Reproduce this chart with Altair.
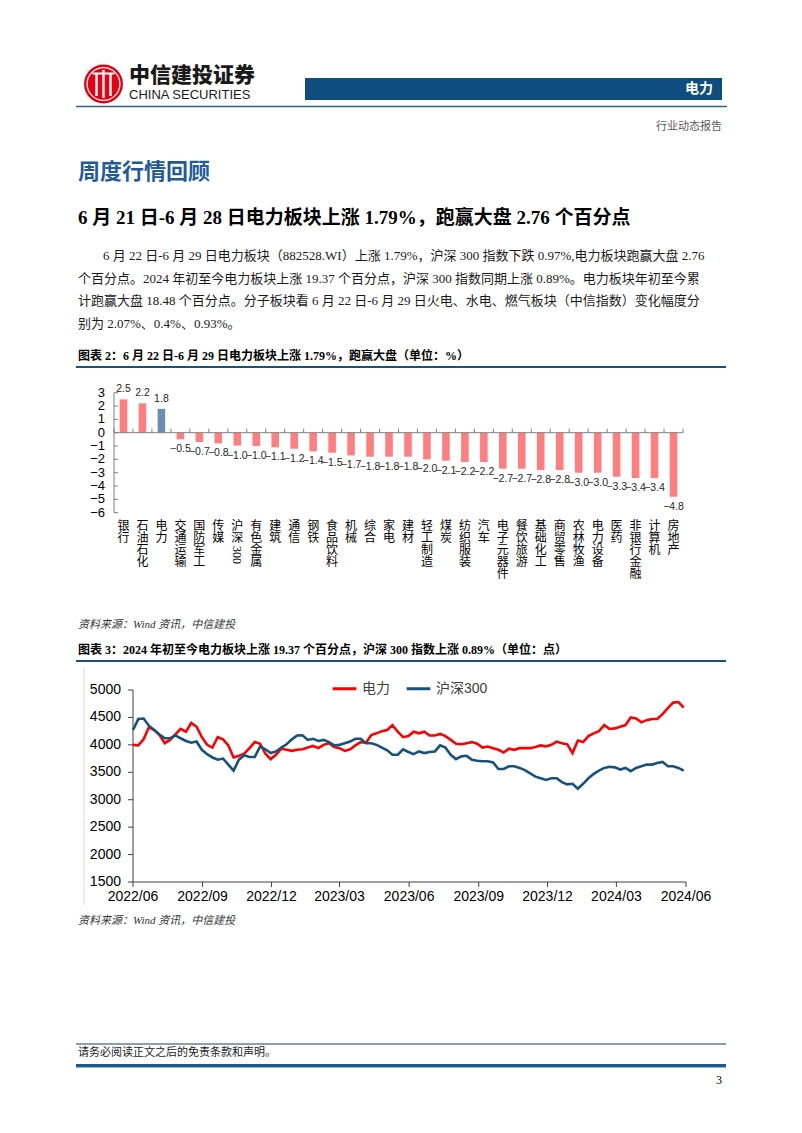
import altair as alt
import pandas as pd

SERIF = "'Liberation Serif', 'Noto Sans CJK SC', serif"
SANS = "'Liberation Sans', 'Noto Sans CJK SC', sans-serif"
CJK = "'Noto Sans CJK SC', sans-serif"

# ---------------- data: bar chart ----------------
bar_categories = ["银行", "石油石化", "电力", "交通运输", "国防军工", "传媒", "沪深300", "有色金属",
                  "建筑", "通信", "钢铁", "食品饮料", "机械", "综合", "家电", "建材", "轻工制造",
                  "煤炭", "纺织服装", "汽车", "电子元器件", "餐饮旅游", "基础化工", "商贸零售",
                  "农林牧渔", "电力设备", "医药", "非银行金融", "计算机", "房地产"]
bar_values = [2.5, 2.2, 1.79, -0.5, -0.7, -0.8, -0.97, -1.0, -1.1, -1.2, -1.4, -1.5, -1.7, -1.8,
              -1.8, -1.8, -2.0, -2.1, -2.2, -2.2, -2.7, -2.7, -2.8, -2.8, -3.0, -3.0, -3.3, -3.4,
              -3.4, -4.8]
bar_highlight = "电力"
bar_yticks = [3, 2, 1, 0, -1, -2, -3, -4, -5, -6]

# ---------------- data: line chart (weekly readings) ----------------
line_series = ["电力", "沪深300"]
line_start = "2022-06-28"
power_values = [4000, 3990, 4100, 4320, 4270, 4180, 4030, 4090, 4190, 4290, 4240, 4400, 4330, 4140,
                4000, 3950, 4140, 4100, 3990, 3770, 3800, 3840, 3940, 4050, 4020, 3840, 3740, 3820,
                3930, 3910, 3890, 3910, 3920, 3950, 3980,
                3940, 4000, 4030, 3960, 3940, 3890, 3920, 3990, 4050, 4040, 4180, 4210, 4250, 4270,
                4360, 4240, 4140, 4160, 4240, 4210, 4240, 4170, 4170, 4200, 4160, 4090, 4020, 4010,
                4030, 4050, 4020, 3950, 3970, 3940, 3910,
                3860, 3930, 3910, 3940, 3940, 3940, 3960, 3990, 3970, 4000, 4060, 4030, 4010, 3850,
                4080, 4050, 4160, 4210, 4250, 4360, 4290, 4300, 4330, 4360, 4500, 4480, 4410, 4450,
                4470, 4470, 4560, 4670, 4770, 4780, 4680]
csi300_values = [4270, 4470, 4480, 4350, 4270, 4190, 4120, 4120, 4175, 4120, 4070, 4040, 4060, 3910,
                 3830, 3770, 3730, 3750, 3640, 3530, 3730, 3810, 3780, 3780, 3970, 3920, 3850, 3880,
                 3950, 4010, 4100, 4170, 4175, 4090, 4110,
                 4070, 4090, 4050, 3990, 4000, 4030, 4060, 4110, 4110, 4030, 4030, 4000, 3950, 3900,
                 3820, 3820, 3920, 3870, 3830, 3880, 3850, 3870, 3880, 3990, 3950, 3820, 3740, 3790,
                 3800, 3730, 3710, 3700, 3700, 3680, 3560,
                 3560, 3610, 3610, 3580, 3540, 3480, 3420, 3390, 3360, 3390, 3390, 3320, 3280, 3290,
                 3200, 3290, 3390, 3470, 3530, 3580, 3600, 3590, 3550, 3580, 3520, 3580, 3610, 3640,
                 3640, 3670, 3690, 3610, 3610, 3580, 3530]
line_xticks = ["2022/06", "2022/09", "2022/12", "2023/03", "2023/06", "2023/09", "2023/12",
               "2024/03", "2024/06"]
line_yticks = [1500, 2000, 2500, 3000, 3500, 4000, 4500, 5000]

# ---------------- helpers (page pixel -> view pixel) ----------------
OX, OY = 8, 8


def X(p):
    return p - OX


def Y(p):
    return p - OY


one = pd.DataFrame({"k": [0]})


def text(s, x, y, size, font=SERIF, weight="normal", color="#000000", align="left", style="normal"):
    return alt.Chart(pd.DataFrame({"t": [s]})).mark_text(
        align=align, baseline="middle", font=font, fontSize=size, fontWeight=weight,
        fontStyle=style, color=color
    ).encode(x=alt.value(X(x)), y=alt.value(Y(y)), text="t:N")


def rect(x1, y1, x2, y2, color):
    return alt.Chart(one).mark_rect(color=color).encode(
        x=alt.value(X(x1)), x2=alt.value(X(x2)), y=alt.value(Y(y1)), y2=alt.value(Y(y2)))


def hline(x1, x2, y, color, w):
    return alt.Chart(one).mark_rule(color=color, strokeWidth=w).encode(
        x=alt.value(X(x1)), x2=alt.value(X(x2)), y=alt.value(Y(y)))


def vline(x, y1, y2, color, w):
    return alt.Chart(one).mark_rule(color=color, strokeWidth=w).encode(
        x=alt.value(X(x)), y=alt.value(Y(y1)), y2=alt.value(Y(y2)))


def circle(x, y, r, fill=None, stroke=None, sw=1.0):
    kw = dict(shape="circle", opacity=1)
    if fill:
        kw.update(filled=True, fill=fill, strokeWidth=0)
    else:
        kw.update(filled=False, stroke=stroke, strokeWidth=sw)
    return alt.Chart(one).mark_point(**kw).encode(
        x=alt.value(X(x)), y=alt.value(Y(y)), size=alt.value(3.14159 * r * r))


layers = []

# ---------------- header ----------------
LOGO_X, LOGO_Y = 103.5, 84
layers += [
    circle(LOGO_X, LOGO_Y, 22, fill="#E60012"),
    circle(LOGO_X, LOGO_Y, 18.5, stroke="#FFFFFF", sw=1.3),
    vline(LOGO_X - 7, 73, 96, "#FFFFFF", 2.4),
    vline(LOGO_X, 70, 98, "#FFFFFF", 2.4),
    vline(LOGO_X + 7, 73, 96, "#FFFFFF", 2.4),
    hline(LOGO_X - 11, LOGO_X + 11, 73.5, "#FFFFFF", 2.0),
    text("中信建投证券", 129, 76, 21, font=CJK, weight=900, color="#1A1A1A"),
    text("CHINA SECURITIES", 129, 95, 13, font=SANS, weight="normal", color="#1A1A1A"),
    rect(305, 78, 722, 100, "#0E4D7E"),
    text("电力", 713, 89, 14, font=CJK, weight="bold", color="#FFFFFF", align="right"),
    hline(76, 727, 106.5, "#35607F", 1.5),
    text("行业动态报告", 722, 127, 11, font=SERIF, color="#595959", align="right"),
]

# ---------------- headings and paragraph ----------------
layers += [
    text("周度行情回顾", 78, 172, 22, font=CJK, weight="bold", color="#1F5B98"),
    text("6 月 21 日-6 月 28 日电力板块上涨 1.79%，跑赢大盘 2.76 个百分点", 78, 218, 19,
         font=SERIF, weight="bold", color="#000000"),
    text("6 月 22 日-6 月 29 日电力板块（882528.WI）上涨 1.79%，沪深 300 指数下跌 0.97%,电力板块跑赢大盘 2.76",
         103, 256, 13, color="#1A1A1A"),
    text("个百分点。2024 年初至今电力板块上涨 19.37 个百分点，沪深 300 指数同期上涨 0.89%。电力板块年初至今累",
         78, 279, 13, color="#1A1A1A"),
    text("计跑赢大盘 18.48 个百分点。分子板块看 6 月 22 日-6 月 29 日火电、水电、燃气板块（中信指数）变化幅度分",
         78, 301, 13, color="#1A1A1A"),
    text("别为 2.07%、0.4%、0.93%。", 78, 324, 13, color="#1A1A1A"),
    text("图表 2：6 月 22 日-6 月 29 日电力板块上涨 1.79%，跑赢大盘（单位：%）", 78, 356, 12,
         weight="bold"),
    hline(76, 726, 367, "#1F4E79", 2),
    text("资料来源：Wind 资讯，中信建投", 78, 625, 11, style="italic", color="#333333"),
    text("图表 3：2024 年初至今电力板块上涨 19.37 个百分点，沪深 300 指数上涨 0.89%（单位：点）",
         78, 650, 12, weight="bold"),
    hline(76, 726, 661, "#1F4E79", 2),
    text("资料来源：Wind 资讯，中信建投", 78, 921, 11, style="italic", color="#333333"),
    hline(76, 726, 1044, "#1F3D5C", 1),
    text("请务必阅读正文之后的免责条款和声明。", 78, 1053, 11, color="#1A1A1A"),
    hline(76, 726, 1065.5, "#1B5A8C", 3),
    hline(76, 726, 1067.5, "#8DB8DC", 1),
    text("3", 722, 1080, 12, align="right"),
]

# ---------------- bar chart ----------------
BX0, BX1 = 114, 683
BY_TOP, BY_BOT = 392.7, 512.7
AX_COL = "#7F7F7F"

bar_df = pd.DataFrame({"cat": bar_categories, "val": bar_values})
bar_df["grp"] = ["hl" if c == bar_highlight else "base" for c in bar_categories]
bar_df["label"] = ["\n".join(ch for ch in c if not ch.isdigit()) for c in bar_categories]
bar_df["digits"] = ["".join(ch for ch in c if ch.isdigit()) for c in bar_categories]

xs = alt.Scale(domain=bar_categories, range=[X(BX0), X(BX1)], paddingInner=0.6, paddingOuter=0.3)
ys = alt.Scale(domain=[min(bar_yticks), max(bar_yticks)], range=[Y(BY_BOT), Y(BY_TOP)],
               nice=False, zero=False)
bx = alt.X("cat:N", scale=xs, axis=None, sort=None)
by = alt.Y("val:Q", scale=ys, axis=None)

zero_px = Y(BY_TOP) + (max(bar_yticks) - 0) / (max(bar_yticks) - min(bar_yticks)) * (BY_BOT - BY_TOP)

bars = alt.Chart(bar_df).mark_bar().encode(
    x=bx, y=by, y2=alt.datum(0),
    color=alt.Color("grp:N", scale=alt.Scale(domain=["base", "hl"], range=["#FF7F80", "#6A8FB3"]),
                    legend=None))
pos_lab = alt.Chart(bar_df).transform_filter("datum.val >= 0").mark_text(
    baseline="bottom", dy=-5, font=SANS, fontSize=10.5, color="#262626").encode(
    x=bx, y=by, text=alt.Text("val:Q", format=".1f"))
neg_lab = alt.Chart(bar_df).transform_filter("datum.val < 0").mark_text(
    baseline="top", dy=5, font=SANS, fontSize=10.5, color="#262626").encode(
    x=bx, y=by, text=alt.Text("val:Q", format=".1f"))

ytick_df = pd.DataFrame({"v": bar_yticks})
bar_yaxis = alt.Chart(pd.DataFrame({"a": [max(bar_yticks)], "b": [min(bar_yticks)]})).mark_rule(
    color=AX_COL, strokeWidth=1).encode(
    x=alt.value(X(BX0)), y=alt.Y("a:Q", scale=ys, axis=None), y2="b:Q")
bar_ytick_marks = alt.Chart(ytick_df).mark_rule(color=AX_COL, strokeWidth=1).encode(
    x=alt.value(X(BX0)), x2=alt.value(X(BX0) + 4), y=alt.Y("v:Q", scale=ys, axis=None))
bar_ylabels = alt.Chart(ytick_df).mark_text(
    align="right", baseline="middle", font=SANS, fontSize=13, color="#000000").encode(
    x=alt.value(X(BX0) - 9), y=alt.Y("v:Q", scale=ys, axis=None), text="v:Q")

xb = alt.Scale(domain=[0, len(bar_categories)], range=[X(BX0), X(BX1)])
bar_xaxis = alt.Chart(pd.DataFrame({"a": [0], "b": [len(bar_categories)]})).mark_rule(
    color=AX_COL, strokeWidth=1).encode(
    x=alt.X("a:Q", scale=xb, axis=None), x2="b:Q", y=alt.value(zero_px))
bound_df = pd.DataFrame({"k": list(range(len(bar_categories) + 1))})
bar_xticks = alt.Chart(bound_df).mark_rule(color=AX_COL, strokeWidth=1).encode(
    x=alt.X("k:Q", scale=xb, axis=None), y=alt.value(zero_px - 4), y2=alt.value(zero_px))

cat_labels = alt.Chart(bar_df).mark_text(
    baseline="top", align="center", lineBreak="\n", lineHeight=12, font=SERIF, fontSize=12,
    color="#000000").encode(x=bx, y=alt.value(Y(521)), text="label:N")
digit_labels = alt.Chart(bar_df).transform_filter("datum.digits != ''").mark_text(
    angle=90, align="left", baseline="middle", font=SERIF, fontSize=12, color="#000000").encode(
    x=bx, y=alt.value(Y(521 + 24 + 1)), text="digits:N")

layers += [bars, pos_lab, neg_lab, bar_yaxis, bar_ytick_marks, bar_ylabels, bar_xaxis, bar_xticks,
           cat_labels, digit_labels]

# ---------------- line chart ----------------
LX0, LX1 = 133, 686
LY_TOP, LY_BOT = 690, 882
LAX = "#404040"

dates = pd.date_range(line_start, periods=len(power_values), freq="7D")
line_df = pd.concat([
    pd.DataFrame({"date": dates, "series": line_series[0], "v": power_values}),
    pd.DataFrame({"date": dates, "series": line_series[1], "v": csi300_values}),
], ignore_index=True)

tick_dates = pd.to_datetime([s.replace("/", "-") + "-28" for s in line_xticks])
xt = alt.Scale(domain=[alt.DateTime(year=int(tick_dates[0].year), month=int(tick_dates[0].month),
                                    date=int(tick_dates[0].day)),
                       alt.DateTime(year=int(tick_dates[-1].year), month=int(tick_dates[-1].month),
                                    date=int(tick_dates[-1].day))],
               range=[X(LX0), X(LX1)])
yl = alt.Scale(domain=[min(line_yticks), max(line_yticks)], range=[Y(LY_BOT), Y(LY_TOP)],
               nice=False, zero=False)

lines = alt.Chart(line_df).mark_line(strokeWidth=2.6).encode(
    x=alt.X("date:T", scale=xt, axis=None),
    y=alt.Y("v:Q", scale=yl, axis=None),
    color=alt.Color("series:N", sort=line_series,
                    scale=alt.Scale(domain=line_series, range=["#FF0000", "#17527F"]),
                    legend=alt.Legend(orient="none", legendX=X(331), legendY=Y(675),
                                      direction="horizontal", title=None, symbolType="stroke",
                                      symbolStrokeWidth=3, symbolSize=560, labelFont=SANS,
                                      labelFontSize=14, labelColor="#404040", labelOffset=4,
                                      columnPadding=10, padding=0)),
    detail="series:N")

ly_df = pd.DataFrame({"v": line_yticks})
l_yaxis = alt.Chart(pd.DataFrame({"a": [max(line_yticks)], "b": [min(line_yticks)]})).mark_rule(
    color=LAX, strokeWidth=1).encode(
    x=alt.value(X(LX0)), y=alt.Y("a:Q", scale=yl, axis=None), y2="b:Q")
l_yticks = alt.Chart(ly_df).mark_rule(color=LAX, strokeWidth=1).encode(
    x=alt.value(X(LX0) - 5), x2=alt.value(X(LX0)), y=alt.Y("v:Q", scale=yl, axis=None))
l_ylabels = alt.Chart(ly_df).mark_text(
    align="right", baseline="middle", font=SANS, fontSize=14, color="#000000").encode(
    x=alt.value(X(LX0) - 12), y=alt.Y("v:Q", scale=yl, axis=None), text="v:Q")

lx_df = pd.DataFrame({"d": tick_dates, "lab": line_xticks})
l_xaxis = alt.Chart(pd.DataFrame({"a": [tick_dates[0]], "b": [tick_dates[-1]]})).mark_rule(
    color=LAX, strokeWidth=1).encode(
    x=alt.X("a:T", scale=xt, axis=None), x2="b:T", y=alt.value(Y(LY_BOT)))
l_xticks = alt.Chart(lx_df).mark_rule(color=LAX, strokeWidth=1).encode(
    x=alt.X("d:T", scale=xt, axis=None), y=alt.value(Y(LY_BOT)), y2=alt.value(Y(LY_BOT) + 5))
l_xlabels = alt.Chart(lx_df).mark_text(
    align="center", baseline="top", font=SANS, fontSize=14, color="#000000").encode(
    x=alt.X("d:T", scale=xt, axis=None), y=alt.value(Y(LY_BOT) + 8), text="lab:N")

layers += [vline(84, 668, 905, "#D9D9D9", 1), lines, l_yaxis, l_yticks, l_ylabels, l_xaxis,
           l_xticks, l_xlabels]

chart = alt.layer(*layers).resolve_scale(
    x="independent", y="independent", color="independent", size="independent"
).properties(
    width=786, height=1110, autosize=alt.AutoSizeParams(type="none"), padding=0
).configure_view(strokeWidth=0)

chart.save("out.html", embed_options={"renderer": "svg", "actions": False})
